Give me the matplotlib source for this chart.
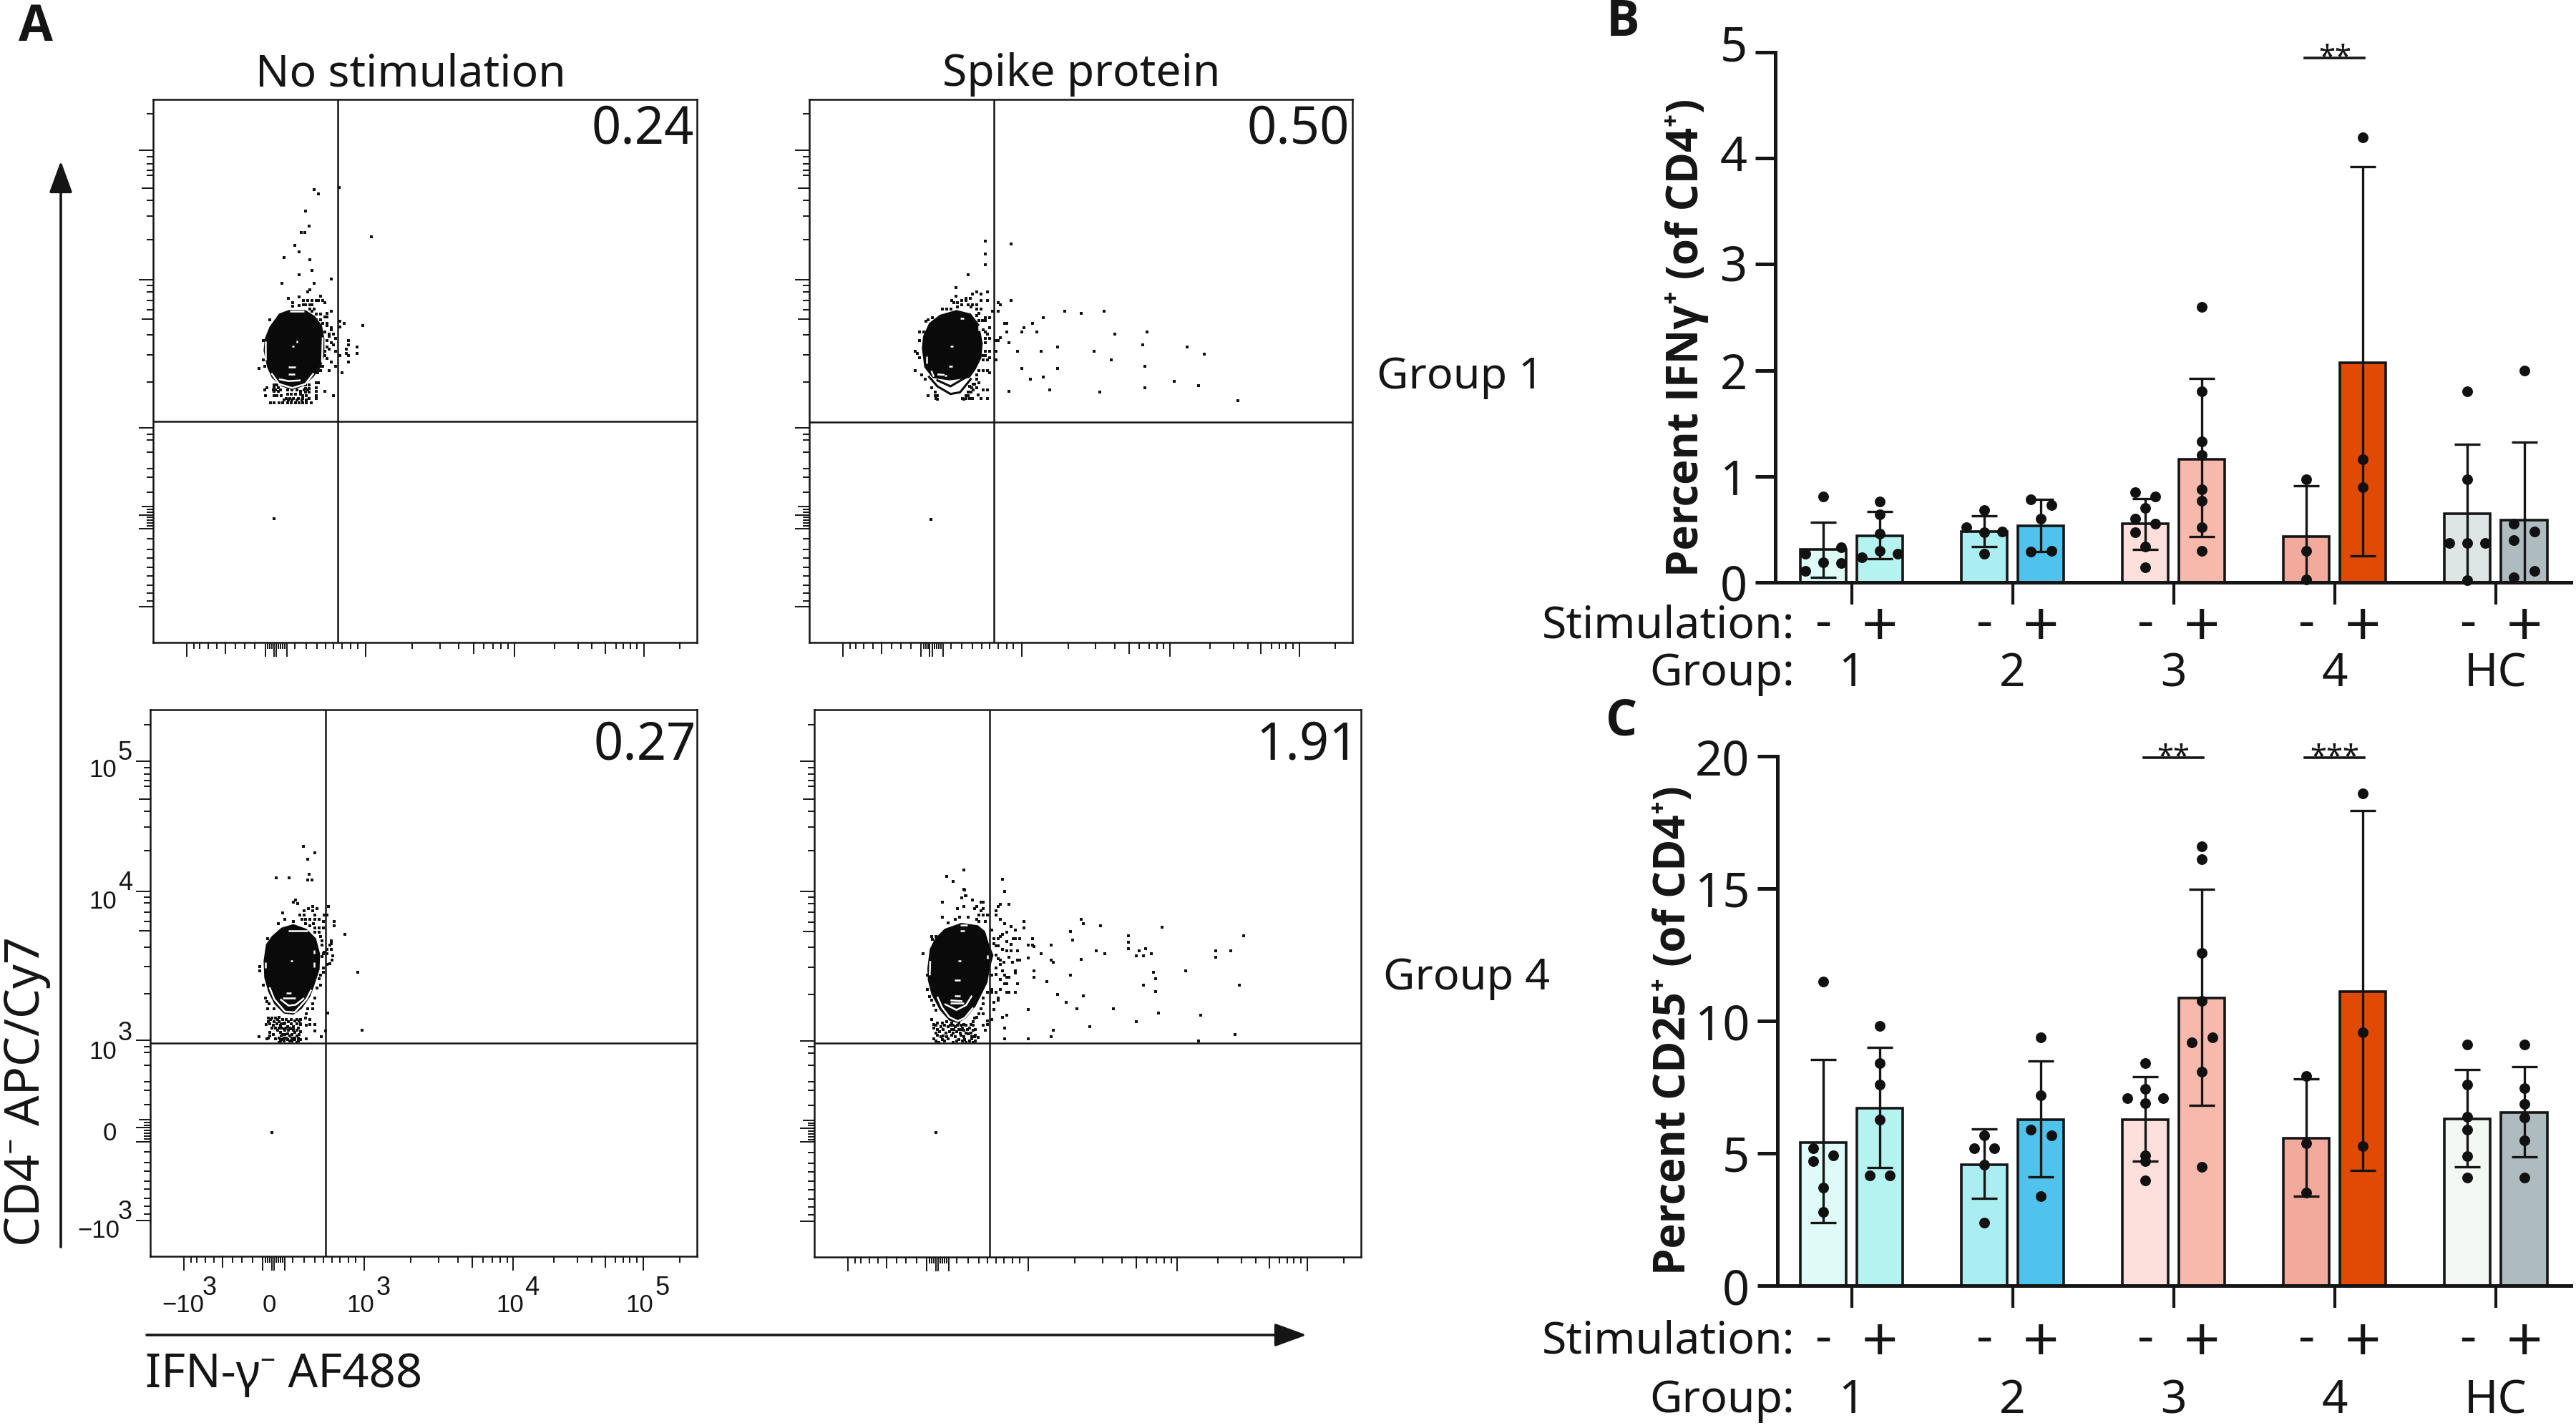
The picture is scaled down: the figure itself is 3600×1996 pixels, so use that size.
import matplotlib
matplotlib.use("Agg")
import matplotlib.pyplot as plt
from matplotlib.transforms import ScaledTranslation, blended_transform_factory

W, H = 3600, 1996
MAIN = "Noto Sans"
BOLD = ["Open Sans", "Lato", "Liberation Sans"]
HELV = "Liberation Sans"
INK = "#151515"

# ---- bar panels data ----
groups = ["1", "2", "3", "4", "HC"]
stim = ["-", "+"]
colors_b = ["#DFFBF7", "#B4F3F0", "#ABEEF2", "#4FC3EC", "#FDE0DB", "#F6B9AB", "#F2AA9C", "#E04A05", "#DDE5E5", "#AEBBBF"]
colors_c = ["#DFFBF7", "#B4F3F0", "#ABEEF2", "#4FC3EC", "#FDE0DB", "#F6B9AB", "#F2AA9C", "#E04A05", "#F3F8F5", "#AEBBBF"]

ifn_mean = [0.31, 0.44, 0.48, 0.53, 0.55, 1.16, 0.43, 2.07, 0.65, 0.59]
ifn_hi = [0.57, 0.67, 0.63, 0.78, 0.79, 1.92, 0.91, 3.92, 1.30, 1.32]
ifn_lo = [0.05, 0.22, 0.34, 0.29, 0.31, 0.43, 0.0, 0.25, 0.0, 0.0]
ifn_points = [
    [0.81, 0.27, 0.33, 0.19, 0.11, 0.18],
    [0.76, 0.64, 0.46, 0.30, 0.235, 0.27],
    [0.68, 0.52, 0.48, 0.47, 0.27],
    [0.78, 0.73, 0.60, 0.29, 0.30],
    [0.85, 0.81, 0.70, 0.60, 0.55, 0.47, 0.34, 0.14],
    [2.6, 1.8, 1.33, 1.2, 0.88, 0.77, 0.52, 0.30],
    [0.97, 0.30, 0.03],
    [4.2, 1.16, 0.90],
    [1.8, 0.97, 0.37, 0.37, 0.37, 0.02],
    [2.0, 0.55, 0.48, 0.40, 0.11, 0.05],
]
ifn_slots = [
    [0, -2, 2, 0, -2, 2],
    [0, 0, 0, 0, -2, 2],
    [0, -2, 2, 0, 0],
    [-1, 1, 0, -1, 1],
    [-1, 1, 0, -1, 1, -1, 0, 0],
    [0, 0, 0, 0, 0, 0, 0, 0],
    [0, 0, 0],
    [0, 0, 0],
    [0, 0, -2, 0, 2, 0],
    [0, -1, 1, -1, 1, -1],
]

cd25_mean = [5.41, 6.7, 4.58, 6.27, 6.27, 10.87, 5.56, 11.12, 6.3, 6.54]
cd25_hi = [8.55, 9.0, 5.92, 8.5, 7.88, 14.97, 7.81, 17.94, 8.15, 8.27]
cd25_lo = [2.37, 4.45, 3.31, 4.1, 4.69, 6.82, 3.38, 4.34, 4.5, 4.86]
cd25_points = [
    [11.5, 5.2, 4.93, 4.69, 3.69, 2.78],
    [9.8, 8.4, 7.6, 6.28, 4.17, 4.17],
    [5.67, 5.2, 5.2, 4.58, 2.39],
    [9.39, 7.18, 5.89, 5.67, 3.38],
    [8.4, 7.42, 7.09, 7.09, 6.9, 4.93, 4.69, 3.98],
    [16.6, 16.1, 12.58, 10.76, 9.18, 9.39, 8.07, 4.48],
    [7.93, 5.37, 3.52],
    [18.6, 9.58, 5.27],
    [9.1, 7.6, 6.39, 5.89, 4.89, 4.07],
    [9.1, 7.47, 6.87, 6.35, 5.48, 4.07],
]
cd25_slots = [
    [0, -1, 1, -1, 0, 0],
    [0, 0, 0, 0, -1, 1],
    [0, -1, 1, 0, 0],
    [0, 0, -1, 1, 0],
    [0, 0, -2, 2, 0, 0, 0, 0],
    [0, 0, 0, 0, -1, 1, 0, 0],
    [0, 0, 0],
    [0, 0, 0],
    [0, 0, 0, 0, 0, 0],
    [0, 0, 0, 0, 0, 0],
]

# ---- flow panels data, events in channel units of each panel ----
dots_none_1 = [(217,8),(235,35),(172,60),(280,70),(289,115),(235,131),(163,168),(297,168),(369,150),(280,194),(271,203),(324,221),(190,230),(235,225),(208,248),(253,240),(271,240),(289,240),(307,240),(316,240),(334,240),(343,248),(208,265),(235,262),(253,258),(262,258),(280,258),(289,258),(280,275),(298,275),(289,285),(369,284),(351,293),(307,298),(325,298),(343,310),(352,310),(307,320),(325,320),(110,320),(334,337),(352,337),(352,346),(405,328),(405,350),(422,337),(502,345),(369,355),(369,364),(343,373),(360,382),(378,382),(360,391),(387,400),(352,408),(369,417),(378,426),(440,408),(440,426),(476,436),(476,463),(432,445),(432,463),(440,472),(352,436),(360,445),(387,454),(343,454),(343,472),(352,483),(405,472),(369,498),(440,498),(387,516),(85,408),(85,490),(67,525),(90,516),(360,534),(414,543),(325,516),(334,516),(316,534),(325,534),(312,543),
    (99,605),(90,614),(93,640),(130,595),(140,595),(130,605),(148,605),(130,620),(148,620),(130,640),(140,640),(160,640),(185,632),(200,632),(220,632),(240,632),(262,595),(275,595),(262,610),(275,610),(262,625),(275,625),(240,620),(250,640),(265,640),(275,650),(180,650),(195,650),(210,650),(230,650),(250,650),(307,585),(316,585),(307,605),(307,620),(307,640),(307,650),(343,622),(378,640),
    (115,668),(130,668),(150,668),(165,668),(185,668),(200,668),(220,668),(235,668),(250,668),(265,668),(285,668),
    (125,615),(135,615),(155,615),(185,615),(205,615),(225,615),(255,615),(270,615),(170,658),(190,658),(205,658),(225,658),(245,658),(265,658),
    (297,-225),(314,-207),(402,-234),(261,-135),(276,-72),(243,-45),(258,-45),(537,-27),(129,1155)]
dots_spike_1 = [(352,45),(352,90),(459,3),(352,-9),(280,132),(228,186),(228,222),(298,212),(316,204),(334,212),(361,204),(210,240),(219,248),(235,248),(253,240),(271,232),(271,240),(289,230),(334,240),(361,240),(406,248),(414,258),(459,240),(253,258),(280,258),(298,258),(316,258),(170,275),(190,275),(208,275),(235,268),(290,268),(316,275),(334,275),(380,284),(406,284),(325,293),(316,302),(352,311),(370,311),(593,311),(103,328),(112,320),(130,311),(325,325),(340,325),(350,325),(432,337),(441,337),(548,337),(370,355),(513,355),(343,364),(76,373),(94,373),(352,373),(360,382),(441,373),(504,373),(566,373),(352,400),(370,400),(396,408),(405,408),(414,395),(76,408),(352,418),(450,417),(655,436),(58,454),(67,463),(352,454),(370,454),(396,454),(486,454),(584,454),(76,481),(343,472),(352,472),(370,481),(396,490),(343,490),(360,490),(504,526),(655,526),(58,535),(325,535),(343,535),(361,535),(370,543),(85,552),(316,552),(100,570),(316,570),(539,570),(593,561),(125,605),(305,590),(325,585),(316,605),(343,614),(361,614),(620,614),(450,622),(112,640),(140,625),(150,640),(290,625),(300,615),(280,640),(320,635),(334,650),(361,650),(150,655),(260,655),(270,650),(285,650),(296,650),
    (285,600),(295,605),(280,625),(270,640),(255,650),(140,640),(145,650),(300,590),
    (683,285),(753,293),(850,285),(894,382),(1029,373),(1011,426),(1198,436),(1268,464),(806,454),(878,490),(1021,516),(832,623),(1021,605),(1144,578),(1244,597),(1411,659),(122,1158)]
dots_none_4 = [(218,55),(210,63),(228,70),(357,82),(166,108),(290,82),(272,91),(255,100),(290,100),(308,91),(255,118),(300,118),(238,118),(340,118),(352,118),(175,136),(148,154),(210,145),(245,136),(262,136),(280,136),(300,136),(318,136),(335,145),(262,154),(295,154),(280,163),(380,145),(380,162),(300,172),(318,172),(335,172),(300,190),(318,190),(425,198),(325,208),(103,215),(330,226),(370,226),(370,236),(362,244),(330,244),(350,262),(368,262),(340,272),(335,280),(350,280),(375,287),(330,290),(372,305),(362,322),(350,325),(68,332),(68,350),(335,340),(335,358),(325,370),(318,385),(480,358),(85,412),(325,412),(308,422),(94,466),(300,466),(100,480),(108,490),(290,490),(103,510),(130,510),(290,510),(270,510),(355,528),(265,530),(280,555),(260,550),(300,575),(280,575),(265,580),(300,602),(345,602),(497,601),(67,628),(327,628),(263,637),(100,635),
    (105,550),(120,550),(135,550),(150,545),(105,565),(130,565),(150,565),(175,570),(190,565),(215,560),(235,560),(95,575),(125,580),(155,580),(185,585),(210,585),(240,575),(135,590),(170,595),(200,595),(225,600),(110,610),(155,610),(185,615),(215,610),(240,605),(110,625),(135,635),(160,625),(195,625),(225,625),(160,640),(185,640),(215,640),(240,640),(150,650),(225,650),
    (115,555),(145,555),(165,555),(180,555),(200,555),(225,555),(240,555),(110,572),(140,572),(160,572),(170,572),(200,572),(225,572),(240,572),(120,590),(150,590),(160,590),(180,590),(195,590),(210,590),(230,590),(145,600),(175,600),(190,600),(210,600),(125,618),(165,618),(175,618),(205,618),(235,618),(105,632),(150,632),(170,632),(180,632),(205,632),(215,632),(230,632),(155,645),(170,645),(195,645),(205,645),(230,645),
    (252,-170),(300,-144),(271,-116),(277,-54),(287,-30),(271,-30),(137,-38),(191,-38),(120,1030)]
dots_spike_4 = [(262,10),(270,36),(252,45),(296,54),(171,63),(334,63),(342,63),(414,72),(450,72),(405,82),(234,90),(262,82),(316,82),(306,90),(342,90),(333,100),(396,100),(325,118),(360,118),(396,118),(172,127),(225,136),(243,127),(280,127),(316,136),(342,118),(414,136),(196,150),(324,145),(350,145),(512,145),(432,154),(460,165),(512,171),(378,180),(476,180),(440,190),(423,198),(414,207),(387,215),(405,215),(468,215),(476,215),(494,215),(548,215),(125,207),(145,207),(130,220),(440,228),(387,236),(405,245),(396,245),(458,240),(530,242),(548,242),(555,250),(628,242),(422,260),(440,268),(458,268),(486,268),(90,278),(396,285),(584,278),(405,300),(450,295),(530,296),(486,305),(495,305),(414,305),(430,314),(466,314),(628,305),(637,314),(414,325),(396,340),(477,350),(477,360),(556,350),(422,350),(396,365),(378,368),(432,370),(440,378),(450,378),(556,377),(414,386),(610,395),(432,404),(441,404),(486,404),(108,370),(108,430),(378,430),(396,440),(414,430),(440,440),(450,440),(476,440),(655,450),(118,458),(360,440),(378,440),(404,465),(404,475),(387,484),(127,475),(136,495),(342,465),(342,490),(333,510),(387,512),(530,512),(145,515),(325,530),(342,530),(378,556),(440,538),(422,547),(127,556),(360,560),(315,545),(305,550),(300,565),(290,575),(432,592),(342,580),(360,575),(351,600),(637,601),(628,628),(432,637),(530,637),
    (135,575),(150,570),(170,570),(190,565),(210,570),(240,570),(260,575),(135,590),(165,585),(195,585),(225,585),(255,590),(285,590),(160,605),(200,605),(230,605),(260,600),(300,600),(150,620),(175,625),(210,620),(250,620),(280,615),(310,620),(135,635),(170,640),(195,635),(240,640),(265,640),(295,635),(320,630),(155,650),(215,650),(270,650),(300,650),
    (145,580),(180,580),(205,580),(215,580),(235,580),(250,580),(270,580),(300,580),(150,597),(175,597),(210,597),(220,597),(240,597),(250,597),(275,597),(310,597),(145,612),(185,612),(215,612),(245,612),(270,612),(290,612),(165,628),(190,628),(225,628),(260,628),(295,628),(305,628),(145,645),(180,645),(230,645),(255,645),(285,645),(310,645),
    (1434,204),(1380,268),(1317,268),(1317,295),(1416,412),(1255,538),(1398,619),(1245,646),(1092,169),(951,204),(951,230),(951,258),(985,287),(996,268),(1022,259),(1013,287),(1048,279),(834,161),(753,135),(761,152),(709,187),(718,223),(816,268),(852,279),(753,304),(709,368),(1057,357),(1066,385),(1013,412),(1066,438),(1192,350),(762,457),(691,483),(735,510),(887,510),(1076,529),(985,565),(788,584),(635,599),
    (260,-71),(188,-45),(216,-25),(422,-34),(431,19),(265,13),(266,36),(144,1030)]

blob_none_1 = [(190,280),(260,280),(300,305),(330,345),(340,400),(340,470),(325,520),(295,560),(250,600),(205,615),(160,600),(120,565),(100,520),(85,450),(90,400),(110,350),(150,295)]
blob_spike_1 = [(85,440),(90,390),(115,335),(160,300),(230,280),(290,295),(325,340),(340,420),(335,480),(310,530),(285,565),(200,575),(130,565),(95,520)]
blob_none_4 = [(85,310),(95,240),(120,205),(160,170),(210,155),(265,175),(305,215),(322,280),(320,345),(295,420),(280,460),(245,510),(210,535),(170,530),(130,490),(105,440),(88,380)]
blob_spike_4 = [(108,340),(118,260),(140,215),(180,175),(250,150),(320,160),(350,185),(365,235),(385,285),(370,340),(360,400),(340,440),(310,500),(270,550),(235,570),(200,560),(160,515),(125,450),(110,390)]

rings_none_1 = [[(93,410),(93,490)], [(333,395),(330,500)], [(118,545),(150,590),(205,607),(260,590),(295,545)], [(150,570),(190,578),(240,575)], [(190,550),(215,550)], [(190,520),(220,520)], [(195,285),(255,285)], [(203,432),(213,432)], [(225,408),(225,418)]]
rings_spike_1 = [[(105,475),(105,505)], [(325,345),(325,365)], [(125,535),(135,560)], [(150,550),(180,552)], [(197,516),(212,516)], [(245,315),(260,315)], [(205,432),(215,432)], [(180,555),(190,555)]]
rings_none_4 = [[(92,315),(92,340)], [(297,265),(297,280)], [(297,315),(297,335)], [(110,420),(130,470),(175,522),(215,525),(265,470),(285,430)], [(155,470),(190,497),(220,493),(255,465)], [(165,465),(220,465)], [(180,445),(200,445)], [(197,310),(207,310)], [(190,183),(270,183)]]
rings_spike_4 = [[(120,310),(118,370)], [(360,285),(360,300)], [(150,460),(170,505),(200,545),(235,562),(265,548),(300,505)], [(180,490),(230,515),(270,495),(295,455)], [(205,485),(260,485)], [(205,475),(255,478)], [(245,158),(275,158)], [(245,183),(265,183)], [(238,310),(248,310)], [(222,390),(245,390)], [(222,455),(245,455)]]
chevrons_spike_1 = [[(115,560),(150,600),(205,632),(245,625),(290,570)], [(150,575),(205,600),(265,565)]]

flow_values = ["0.24", "0.50", "0.27", "1.91"]

# flow axis ticks as fractions of the panel side
x_long = [0.0617, 0.206, 0.222, 0.226, 0.246, 0.391, 0.664, 0.902]
x_mid = [0.1326, 0.589, 0.832]
x_short = [0.0745, 0.085, 0.1007, 0.117, 0.151, 0.168, 0.187, 0.2109, 0.2147, 0.2184, 0.23, 0.234, 0.238, 0.242, 0.261, 0.281, 0.301, 0.317, 0.332, 0.3475, 0.363, 0.376, 0.4766, 0.527, 0.5624, 0.608, 0.6255, 0.64, 0.6525, 0.7376, 0.781, 0.807, 0.851, 0.865, 0.877, 0.89, 0.9688]
y_long = [0.066, 0.21, 0.235, 0.395, 0.668, 0.906]
y_mid = [0.595, 0.836, 0.25]
y_short = [0.077, 0.091, 0.106, 0.123, 0.138, 0.156, 0.171, 0.191, 0.215, 0.22, 0.225, 0.23, 0.24, 0.245, 0.277, 0.304, 0.32, 0.35, 0.373, 0.384, 0.48, 0.53, 0.566, 0.612, 0.63, 0.646, 0.657, 0.742, 0.785, 0.814, 0.86, 0.87, 0.882, 0.894, 0.973]


def axes_px(left, right, top, bottom):
    return fig.add_axes([left / W, 1 - bottom / H, (right - left) / W, (bottom - top) / H])


fig = plt.figure(figsize=(18, 9.98), dpi=200, facecolor="white")
ov = fig.add_axes([0, 0, 1, 1], zorder=5)
ov.set_xlim(0, W)
ov.set_ylim(H, 0)
ov.axis("off")
ov.patch.set_alpha(0)


def flow_panel(box, crop, hline, vline, dots, blob, rings, value, chevrons=None):
    left, right, top, bottom = box
    ax = axes_px(left, right, top, bottom)
    x0, x1 = (left - crop[0]) * 3, (right - crop[0]) * 3
    y0, y1 = (bottom - crop[1]) * 3, (top - crop[1]) * 3
    ax.set_xlim(x0, x1)
    ax.set_ylim(y0, y1)
    ax.fill([p[0] for p in blob], [p[1] for p in blob], color="#0a0a0a", lw=0, zorder=2)
    ax.scatter([p[0] for p in dots], [p[1] for p in dots], s=1.2, marker="s", color="#111111", linewidths=0, zorder=2)
    if chevrons:
        for c in chevrons:
            ax.plot([p[0] for p in c], [p[1] for p in c], color="#0a0a0a", lw=1.1, zorder=2)
    for r in rings:
        ax.plot([p[0] for p in r], [p[1] for p in r], color="white", lw=0.9, zorder=3, solid_capstyle="butt")
    ax.axhline((hline - crop[1]) * 3, color=INK, lw=0.9, zorder=4)
    ax.axvline((vline - crop[0]) * 3, color=INK, lw=0.9, zorder=4)
    for s in ax.spines.values():
        s.set_linewidth(0.9)
        s.set_color(INK)
    # ticks from panel fractions
    ax.set_xticks([x0 + f * (x1 - x0) for f in x_long])
    ax.set_xticks([x0 + f * (x1 - x0) for f in x_short], minor=True)
    ax.set_yticks([y0 + f * (y1 - y0) for f in y_long])
    ax.set_yticks([y0 + f * (y1 - y0) for f in y_short], minor=True)
    ax.tick_params(which="major", length=7.2, width=0.7, color=INK, labelbottom=False, labelleft=False)
    ax.tick_params(which="minor", length=3.4, width=0.7, color=INK)
    mid_x = 15 / (bottom - top)
    for f in x_mid:
        v = x0 + f * (x1 - x0)
        ax.plot([v, v], [0, -mid_x], transform=ax.get_xaxis_transform(), color=INK, lw=0.7, clip_on=False)
    mid_y = 15 / (right - left)
    for f in y_mid:
        v = y0 + f * (y1 - y0)
        ax.plot([0, -mid_y], [v, v], transform=ax.get_yaxis_transform(), color=INK, lw=0.7, clip_on=False)
    ax.set_xlim(x0, x1)
    ax.set_ylim(y0, y1)
    ov.text(value[0], value[1], value[2], fontsize=26, family=MAIN, ha="right", va="center", color=INK)
    return ax


flow_panel((214, 974, 139, 898), (340, 340), 589, 472, dots_none_1, blob_none_1, rings_none_1, (970, 181, flow_values[0]))
flow_panel((1131, 1890, 139, 898), (1260, 340), 590, 1389, dots_spike_1, blob_spike_1, rings_spike_1, (1886, 181, flow_values[1]), chevrons_spike_1)
flow_panel((210, 974, 992, 1756), (340, 1240), 1458, 455, dots_none_4, blob_none_4, rings_none_4, (973, 1042, flow_values[2]))
flow_panel((1138, 1902, 992, 1757), (1260, 1240), 1458, 1382.5, dots_spike_4, blob_spike_4, rings_spike_4, (1899, 1042, flow_values[3]))


# flow tick labels, printed large superscripts
def power(x, y, base, exp, dx=12, dy=-25):
    ov.text(x, y, base, fontsize=12.5, family=HELV, ha="right", va="center", color=INK)
    ov.text(x + dx, y + dy, exp, fontsize=13, family=HELV, ha="center", va="center", color=INK)


power(285, 1825, "\u221210", "3", dx=8)
ov.text(376, 1825, "0", fontsize=12.5, family=HELV, ha="center", va="center", color=INK)
power(523, 1825, "10", "3", dx=13)
power(732, 1825, "10", "4", dx=11)
power(913, 1825, "10", "5", dx=13)
power(163, 1077, "10", "5")
power(163, 1260, "10", "4")
power(163, 1470, "10", "3")
ov.text(153, 1585, "0", fontsize=12.5, family=HELV, ha="center", va="center", color=INK)
power(167, 1720, "\u221210", "3", dx=8)

# flow headings and axis arrows
ov.text(574, 104, "No stimulation", fontsize=22.5, family=MAIN, ha="center", va="center", color=INK)
ov.text(1511, 104, "Spike protein", fontsize=22.5, family=MAIN, ha="center", va="center", color=INK)
ov.text(1924, 528, "Group 1", fontsize=22, family=MAIN, ha="left", va="center", color=INK)
ov.text(1933, 1367, "Group 4", fontsize=22, family=MAIN, ha="left", va="center", color=INK)
ov.text(50, 39, "A", fontsize=25, family=BOLD, weight="bold", ha="center", va="center", color=INK)
ov.text(2268, 32, "B", fontsize=25, family=BOLD, weight="bold", ha="center", va="center", color=INK)
ov.text(2266, 1010, "C", fontsize=25, family=BOLD, weight="bold", ha="center", va="center", color=INK)
ov.annotate("", xy=(85, 225), xytext=(85, 1743), arrowprops=dict(arrowstyle="-|>,head_length=1.37,head_width=0.5", mutation_scale=10, lw=1.3, color=INK, shrinkA=0, shrinkB=0))
ov.annotate("", xy=(1826, 1866), xytext=(205, 1866), arrowprops=dict(arrowstyle="-|>,head_length=1.37,head_width=0.5", mutation_scale=10, lw=1.3, color=INK, shrinkA=0, shrinkB=0))
ov.text(37, 1525, "CD4\u207b APC/Cy7", fontsize=24, family=MAIN, rotation=90, ha="center", va="center", color=INK)
ov.text(397, 1922, "IFN-\u03b3\u207b AF488", fontsize=23.5, family=MAIN, ha="center", va="center", color=INK)


def bar_panel(left, top, bottom, ymax, yticks, label_dy, means, hi, lo, points, slots, colors, ylabel, label_x, label_y, stim_y, group_y, sig):
    ax = axes_px(left, 3593, top, bottom)
    ax.set_xlim((left - 2587.5) / 225.1, (3593 - 2587.5) / 225.1)
    ax.set_ylim(0, ymax)
    for i in range(10):
        x = i // 2 + (-0.176 if i % 2 == 0 else 0.176)
        ax.bar(x, means[i], 0.285, color=colors[i], edgecolor=INK, linewidth=1.3, zorder=2)
        ax.errorbar(x, means[i], yerr=[[means[i] - lo[i]], [hi[i] - means[i]]], color=INK, elinewidth=1.2, capsize=6.5, capthick=1.2, zorder=3, clip_on=False)
        offs = {0: 0, 1: 0.0635, -1: -0.0635, 2: 0.111, -2: -0.111}
        ax.scatter([x + offs[s] for s in slots[i]], points[i], s=29, color="#111111", linewidths=0, zorder=4, clip_on=False)
    for s in ["top", "right"]:
        ax.spines[s].set_visible(False)
    for s in ["left", "bottom"]:
        ax.spines[s].set_linewidth(1.8)
        ax.spines[s].set_color(INK)
    ax.set_yticks(yticks)
    ax.set_xticks(range(5))
    ax.set_xticklabels([])
    ax.tick_params(axis="y", length=10, width=1.8, pad=4, labelsize=24, color=INK, labelcolor=INK)
    ax.tick_params(axis="x", length=11, width=1.5, color=INK)
    for t, dy in zip(ax.get_yticklabels(), label_dy):
        t.set_family(MAIN)
        t.set_transform(t.get_transform() + ScaledTranslation(0, dy / 200, fig.dpi_scale_trans))
    ov.text(label_x, label_y, ylabel, fontsize=21.5, family=BOLD, weight="bold", rotation=90, ha="center", va="center", color=INK)
    trans = blended_transform_factory(ax.transData, ov.transData)
    ov.text(2508, stim_y, "Stimulation:", fontsize=22.5, family=MAIN, ha="right", va="center", color=INK)
    ov.text(2508, group_y, "Group:", fontsize=22.5, family=MAIN, ha="right", va="center", color=INK)
    for g in range(5):
        ov.text(g - 0.176, stim_y - 3, stim[0], fontsize=26, family=MAIN, ha="center", va="center", transform=trans, color=INK)
        ov.text(g + 0.176, stim_y + 3, stim[1], fontsize=31, family=HELV, ha="center", va="center", transform=trans, color=INK)
        ov.text(g, group_y, groups[g], fontsize=23, family=MAIN, ha="center", va="center", transform=trans, color=INK)
    for g, yv, stars in sig:
        ax.plot([g - 0.185, g + 0.185], [yv, yv], color=INK, lw=1.3, clip_on=False, zorder=5)
        ax.text(g, yv, stars, fontsize=15, family=MAIN, ha="center", va="center", color=INK)
    return ax


bar_panel(2481, 73, 814, 5, [0, 1, 2, 3, 4, 5], [0, 0, 0, 3, 8, 13], ifn_mean, ifn_hi, ifn_lo, ifn_points, ifn_slots, colors_b,
          "Percent IFN\u03b3\u207a (of CD4\u207a)", 2357, 472, 876, 942, [(3, 4.945, "**")])
bar_panel(2484, 1057, 1797, 20, [0, 5, 10, 15, 20], [0, 0, 0, 0, 0], cd25_mean, cd25_hi, cd25_lo, cd25_points, cd25_slots, colors_c,
          "Percent CD25\u207a (of CD4\u207a)", 2339, 1440, 1876, 1958, [(2, 19.95, "**"), (3, 19.95, "***")])

fig.savefig("out.png", dpi=200)
